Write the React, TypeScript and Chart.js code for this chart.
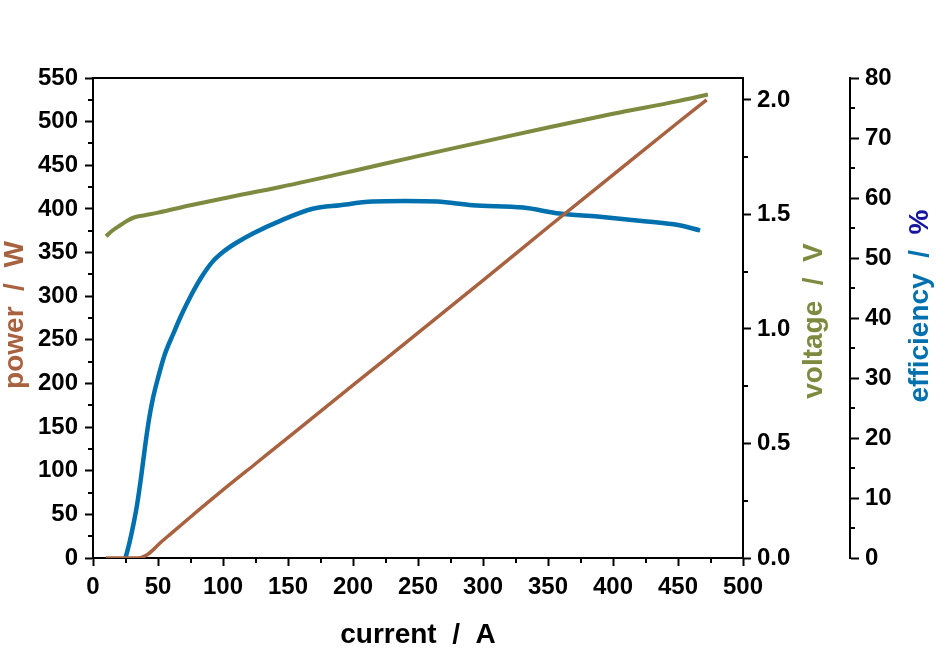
import React, { useEffect, useRef } from "react";
import { Chart, registerables } from "chart.js";

Chart.register(...registerables);

// ---- data ----
const currentP = [10, 20, 30, 35, 38, 42, 46, 50, 60, 75, 100, 125, 150, 200, 250, 300, 350, 400, 450, 472];
const powerW = [0, 0, 0, 0, 1, 4, 9, 15, 28, 47, 78, 108, 138, 198, 258, 318, 379, 439, 499, 525];

const currentV = [10, 15, 21, 26, 32, 40, 50, 75, 100, 144, 200, 250, 298, 350, 400, 450, 473];
const voltageV = [1.405, 1.43, 1.453, 1.472, 1.488, 1.497, 1.508, 1.54, 1.57, 1.62, 1.69, 1.755, 1.815, 1.88, 1.94, 1.995, 2.024];

const currentE = [25, 28, 31, 34, 37, 40, 43, 46, 50, 55, 62, 68, 76, 84, 92, 100, 110, 123, 144, 169, 190, 215, 240, 265, 292, 331, 359, 388, 426, 450, 467];
const efficiencyPct = [0, 2.5, 5.5, 9, 13.5, 18.5, 23, 26.5, 30, 33.8, 37.5, 40.5, 44, 47, 49.4, 51, 52.5, 54.1, 56.2, 58.2, 58.8, 59.4, 59.5, 59.4, 58.8, 58.4, 57.4, 56.9, 56.1, 55.5, 54.6];

// ---- ticks ----
const currentTicks = [0, 50, 100, 150, 200, 250, 300, 350, 400, 450, 500];
const currentMinor = [25, 75, 125, 175, 225, 275, 325, 375, 425, 475];
const powerTicks = [0, 50, 100, 150, 200, 250, 300, 350, 400, 450, 500, 550];
const powerMinor = [25, 75, 125, 175, 225, 275, 325, 375, 425, 475, 525];
const voltageTicks = [0, 0.5, 1.0, 1.5, 2.0];
const voltageMinor = [0.25, 0.75, 1.25, 1.75];
const efficiencyTicks = [0, 10, 20, 30, 40, 50, 60, 70, 80];
const efficiencyMinor = [5, 15, 25, 35, 45, 55, 65, 75];

const BROWN = "#A8623F";
const GREEN = "#7E8A3F";
const BLUE = "#0070AE";
const DARKBLUE = "#1414A0";

const FONT = '"Liberation Sans", Arial, sans-serif';
const tickFont = { family: FONT, size: 24, weight: "bold" as const };

const pairs = (xs: number[], ys: number[]) => xs.map((x, i) => ({ x, y: ys[i] }));

const decorPlugin = {
  id: "decor",
  afterDraw(chart: any) {
    const ctx: CanvasRenderingContext2D = chart.ctx;
    const { left, right, top, bottom } = chart.chartArea;
    const sx = chart.scales.x;
    const sp = chart.scales.yP;
    const sv = chart.scales.yV;
    const se = chart.scales.yE;
    ctx.save();
    ctx.strokeStyle = "#000";
    ctx.lineWidth = 2;
    // top border
    ctx.beginPath();
    ctx.moveTo(left - 1, top);
    ctx.lineTo(right + 1, top);
    ctx.stroke();
    const len = 5;
    ctx.beginPath();
    currentMinor.forEach((v) => {
      const px = Math.round(sx.getPixelForValue(v));
      ctx.moveTo(px, bottom);
      ctx.lineTo(px, bottom + len);
    });
    powerMinor.forEach((v) => {
      const py = Math.round(sp.getPixelForValue(v));
      ctx.moveTo(left, py);
      ctx.lineTo(left - len, py);
    });
    voltageMinor.forEach((v) => {
      const py = Math.round(sv.getPixelForValue(v));
      ctx.moveTo(right, py);
      ctx.lineTo(right + len, py);
    });
    efficiencyMinor.forEach((v) => {
      const py = Math.round(se.getPixelForValue(v));
      ctx.moveTo(se.left, py);
      ctx.lineTo(se.left + len, py);
    });
    ctx.stroke();

    // axis titles
    ctx.font = `bold 28px ${FONT}`;
    ctx.textBaseline = "alphabetic";
    ctx.textAlign = "left";
    const drawParts = (parts: [string, string][], x: number, y: number, rotate: boolean) => {
      const total = parts.reduce((s, p) => s + ctx.measureText(p[0]).width, 0);
      ctx.save();
      ctx.translate(x, y);
      if (rotate) ctx.rotate(-Math.PI / 2);
      let cx = -total / 2;
      parts.forEach(([t, c]) => {
        ctx.fillStyle = c;
        ctx.fillText(t, cx, 0);
        cx += ctx.measureText(t).width;
      });
      ctx.restore();
    };
    drawParts([["current  /  A", "#000"]], (left + right) / 2, 643, false);
    drawParts([["power  /  W", BROWN]], 23, 315, true);
    drawParts([["voltage  /  V", GREEN]], 822, 321, true);
    drawParts([["efficiency  /  ", BLUE], ["%", DARKBLUE]], 928, 306, true);
    ctx.restore();
  },
};

const axisCommon = (tickLength: number) => ({
  grid: { drawOnChartArea: false, drawTicks: true, tickLength, tickWidth: 2, tickColor: "#000" },
  border: { display: true, color: "#000", width: 2 },
});

export default function App() {
  const ref = useRef<HTMLCanvasElement | null>(null);
  useEffect(() => {
    if (!ref.current) return;
    const chart = new Chart(ref.current, {
      type: "line",
      data: {
        datasets: [
          {
            label: "power",
            data: pairs(currentP, powerW),
            borderColor: BROWN,
            borderWidth: 3.5,
            pointRadius: 0,
            fill: false,
            cubicInterpolationMode: "monotone",
            yAxisID: "yP",
          },
          {
            label: "voltage",
            data: pairs(currentV, voltageV),
            borderColor: GREEN,
            borderWidth: 4,
            pointRadius: 0,
            fill: false,
            cubicInterpolationMode: "monotone",
            yAxisID: "yV",
          },
          {
            label: "efficiency",
            data: pairs(currentE, efficiencyPct),
            borderColor: BLUE,
            borderWidth: 4.5,
            pointRadius: 0,
            fill: false,
            cubicInterpolationMode: "monotone",
            yAxisID: "yE",
          },
        ],
      },
      options: {
        responsive: false,
        animation: false,
        events: [],
        layout: { padding: { top: 78, left: 0, right: 0, bottom: 0 } },
        plugins: { legend: { display: false }, tooltip: { enabled: false } },
        scales: {
          x: {
            type: "linear",
            position: "bottom",
            min: 0,
            max: 500,
            afterBuildTicks: (s: any) => {
              s.ticks = currentTicks.map((v) => ({ value: v }));
            },
            afterFit: (s: any) => {
              s.height = 112;
            },
            ...axisCommon(8),
            ticks: { font: tickFont, color: "#000", padding: 7, maxRotation: 0, autoSkip: false },
          },
          yP: {
            type: "linear",
            position: "left",
            min: 0,
            max: 550,
            afterBuildTicks: (s: any) => {
              s.ticks = powerTicks.map((v) => ({ value: v }));
            },
            afterFit: (s: any) => {
              s.width = 93;
            },
            ...axisCommon(8),
            ticks: { font: tickFont, color: "#000", padding: 7, autoSkip: false },
          },
          yV: {
            type: "linear",
            position: "right",
            weight: 0,
            min: 0,
            max: 2.096,
            afterBuildTicks: (s: any) => {
              s.ticks = voltageTicks.map((v) => ({ value: v }));
            },
            afterFit: (s: any) => {
              s.width = 107;
            },
            ...axisCommon(8),
            ticks: {
              font: tickFont,
              color: "#000",
              padding: 6,
              autoSkip: false,
              callback: (v: any) => Number(v).toFixed(1),
            },
          },
          yE: {
            type: "linear",
            position: "right",
            weight: 1,
            min: 0,
            max: 80,
            afterBuildTicks: (s: any) => {
              s.ticks = efficiencyTicks.map((v) => ({ value: v }));
            },
            afterFit: (s: any) => {
              s.width = 97;
            },
            ...axisCommon(9),
            ticks: { font: tickFont, color: "#000", padding: 6, autoSkip: false },
          },
        },
      },
      plugins: [decorPlugin],
    } as any);
    return () => chart.destroy();
  }, []);
  return (
    <div style={{ position: "absolute", left: 0, top: 0, width: 947, height: 670, background: "#fff" }}>
      <canvas ref={ref} width={947} height={670} style={{ display: "block" }} />
    </div>
  );
}
